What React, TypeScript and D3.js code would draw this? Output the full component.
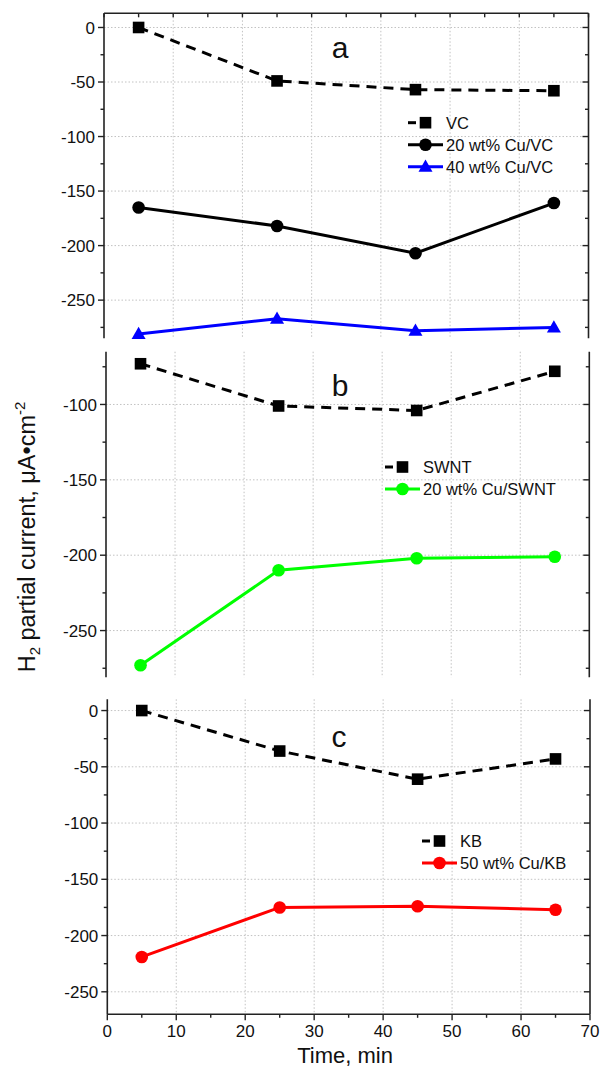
import React from "react";
import * as d3 from "d3";

// sampling times (min)
const times = [5, 25, 45, 65];

// panel a
const vc = [0, -49, -57, -58];
const cuVc20 = [-165, -182, -207, -161];
const cuVc40 = [-281, -267, -278, -275];

// panel b
const swnt = [-73, -101, -104, -78];
const cuSwnt20 = [-273, -210, -202, -201];

// panel c
const kb = [0, -36, -61, -43];
const cuKb50 = [-219, -175, -174, -177];

const xTicks = [0, 10, 20, 30, 40, 50, 60, 70];
const xMinor = [5, 15, 25, 35, 45, 55, 65];
const yTicksA = [0, -50, -100, -150, -200, -250];
const yMinorA = [-25, -75, -125, -175, -225, -275];
const yTicksB = [-100, -150, -200, -250];
const yMinorB = [-75, -125, -175, -225, -275];
const yTicksC = [0, -50, -100, -150, -200, -250];
const yMinorC = [-25, -75, -125, -175, -225];

const FONT = "'Liberation Sans', Arial, Helvetica, sans-serif";
const AXIS = "#222";
const GRID = "#c2c2c2";

type Marker = "square" | "circle" | "triangle";
type Series = { name: string; values: number[]; color: string; marker: Marker; dashed?: boolean };

const panels = [
  {
    letter: "a", left: 104, right: 588.5, top: 13.3, bottom: 338.3,
    domain: [-285, 13], ticks: yTicksA, minor: yMinorA,
    topBorder: true, bottomAxis: false, letterX: 340, letterY: 58,
    legendX: 408, legendY: 122.7, legendGap: 22,
    series: [
      { name: "VC", values: vc, color: "#000", marker: "square", dashed: true },
      { name: "20 wt% Cu/VC", values: cuVc20, color: "#000", marker: "circle" },
      { name: "40 wt% Cu/VC", values: cuVc40, color: "#0000ff", marker: "triangle" },
    ] as Series[],
  },
  {
    letter: "b", left: 106, right: 589.3, top: 351.7, bottom: 677.3,
    domain: [-281, -65], ticks: yTicksB, minor: yMinorB,
    topBorder: false, bottomAxis: false, letterX: 340, letterY: 396,
    legendX: 385, legendY: 467, legendGap: 22,
    series: [
      { name: "SWNT", values: swnt, color: "#000", marker: "square", dashed: true },
      { name: "20 wt% Cu/SWNT", values: cuSwnt20, color: "#00ff00", marker: "circle" },
    ] as Series[],
  },
  {
    letter: "c", left: 107.3, right: 590, top: 699.3, bottom: 1014.3,
    domain: [-270, 10], ticks: yTicksC, minor: yMinorC,
    topBorder: false, bottomAxis: true, letterX: 339, letterY: 747,
    legendX: 422, legendY: 841, legendGap: 22,
    series: [
      { name: "KB", values: kb, color: "#000", marker: "square", dashed: true },
      { name: "50 wt% Cu/KB", values: cuKb50, color: "#ff0000", marker: "circle" },
    ] as Series[],
  },
];

function MarkerShape({ type, x, y, color }: { type: Marker; x: number; y: number; color: string }) {
  if (type === "square") return <rect x={x - 5.8} y={y - 5.8} width={11.6} height={11.6} fill={color} />;
  if (type === "circle") return <circle cx={x} cy={y} r={6.3} fill={color} />;
  const tri = d3.symbol().type(d3.symbolTriangle).size(85)();
  return <path d={tri || ""} transform={`translate(${x},${y + 1})`} fill={color} />;
}

function Panel({ p }: { p: (typeof panels)[number] }) {
  const x = d3.scaleLinear().domain([0, 70]).range([p.left, p.right]);
  const y = d3.scaleLinear().domain(p.domain).range([p.bottom, p.top]);
  const line = d3
    .line<number>()
    .x((_, i) => x(times[i]))
    .y((d) => y(d));

  return (
    <g>
      {/* grid */}
      {xTicks.slice(1, -1).map((t) => (
        <line key={"gx" + t} x1={x(t)} x2={x(t)} y1={p.top} y2={p.bottom} stroke={GRID} strokeDasharray="1.5,2" />
      ))}
      {p.ticks.map((t) => (
        <line key={"gy" + t} x1={p.left} x2={p.right} y1={y(t)} y2={y(t)} stroke={GRID} strokeDasharray="1.5,2" />
      ))}

      {/* left axis */}
      <line x1={p.left} x2={p.left} y1={p.top} y2={p.bottom} stroke={AXIS} strokeWidth={1.6} />
      {p.ticks.map((t) => (
        <g key={"ly" + t}>
          <line x1={p.left - 6} x2={p.left} y1={y(t)} y2={y(t)} stroke={AXIS} strokeWidth={1.4} />
          <text x={p.left - 9} y={y(t)} dy="0.36em" textAnchor="end" fontSize={17} fontFamily={FONT} fill="#111">
            {t}
          </text>
        </g>
      ))}
      {p.minor.map((t) => (
        <line key={"lm" + t} x1={p.left - 3.5} x2={p.left} y1={y(t)} y2={y(t)} stroke={AXIS} strokeWidth={1.4} />
      ))}

      {/* right axis, inward ticks */}
      <line x1={p.right} x2={p.right} y1={p.top} y2={p.bottom} stroke={AXIS} strokeWidth={1.6} />
      {p.ticks.map((t) => (
        <line key={"ry" + t} x1={p.right - 6} x2={p.right} y1={y(t)} y2={y(t)} stroke={AXIS} strokeWidth={1.4} />
      ))}
      {p.minor.map((t) => (
        <line key={"rm" + t} x1={p.right - 3.5} x2={p.right} y1={y(t)} y2={y(t)} stroke={AXIS} strokeWidth={1.4} />
      ))}

      {p.topBorder && (
        <g>
          <line x1={p.left} x2={p.right} y1={p.top} y2={p.top} stroke={AXIS} strokeWidth={1.6} />
          {xTicks.concat(xMinor).map((t) => (
            <line key={"tt" + t} x1={x(t)} x2={x(t)} y1={p.top} y2={p.top + 4} stroke={AXIS} strokeWidth={1.4} />
          ))}
        </g>
      )}

      {p.bottomAxis && (
        <g>
          <line x1={p.left} x2={p.right} y1={p.bottom} y2={p.bottom} stroke={AXIS} strokeWidth={1.6} />
          {xTicks.map((t) => (
            <g key={"bx" + t}>
              <line x1={x(t)} x2={x(t)} y1={p.bottom} y2={p.bottom + 6} stroke={AXIS} strokeWidth={1.4} />
              <text x={x(t)} y={p.bottom + 23} textAnchor="middle" fontSize={17} fontFamily={FONT} fill="#111">
                {t}
              </text>
            </g>
          ))}
          {xMinor.map((t) => (
            <line key={"bm" + t} x1={x(t)} x2={x(t)} y1={p.bottom} y2={p.bottom + 3.5} stroke={AXIS} strokeWidth={1.4} />
          ))}
        </g>
      )}

      {/* series */}
      {p.series.map((s) => (
        <g key={s.name}>
          <path
            d={line(s.values) || ""}
            fill="none"
            stroke={s.color}
            strokeWidth={3}
            strokeDasharray={s.dashed ? "10,7" : undefined}
          />
          {s.values.map((v, i) => (
            <MarkerShape key={i} type={s.marker} x={x(times[i])} y={y(v)} color={s.color} />
          ))}
        </g>
      ))}

      {/* panel letter */}
      <text x={p.letterX} y={p.letterY} textAnchor="middle" fontSize={30} fontFamily={FONT} fill="#111">
        {p.letter}
      </text>

      {/* legend */}
      {p.series.map((s, i) => {
        const ly = p.legendY + i * p.legendGap;
        return (
          <g key={"lg" + s.name}>
            <line
              x1={p.legendX}
              x2={p.legendX + 35}
              y1={ly}
              y2={ly}
              stroke={s.color}
              strokeWidth={3}
              strokeDasharray={s.dashed ? "8,30" : undefined}
            />
            <MarkerShape type={s.marker} x={p.legendX + 17.5} y={ly} color={s.color} />
            <text x={p.legendX + 38} y={ly} dy="0.36em" fontSize={16.5} fontFamily={FONT} fill="#111">
              {s.name}
            </text>
          </g>
        );
      })}
    </g>
  );
}

export default function App() {
  return (
    <div style={{ position: "absolute", left: 0, top: 0, background: "#fff" }}>
      <svg width={603} height={1071} style={{ display: "block" }}>
        <rect width={603} height={1071} fill="#fff" />
        {panels.map((p) => (
          <Panel key={p.letter} p={p} />
        ))}
        <text x={345} y={1063} textAnchor="middle" fontSize={22} fontFamily={FONT} fill="#111">
          Time, min
        </text>
        <text
          transform="translate(35,537) rotate(-90)"
          textAnchor="middle"
          fontSize={23.5}
          fontFamily={FONT}
          fill="#111"
        >
          H
          <tspan fontSize={15} dy={5}>2</tspan>
          <tspan dy={-5}> partial current, μA•cm</tspan>
          <tspan fontSize={15} dy={-10}>-2</tspan>
        </text>
      </svg>
    </div>
  );
}
